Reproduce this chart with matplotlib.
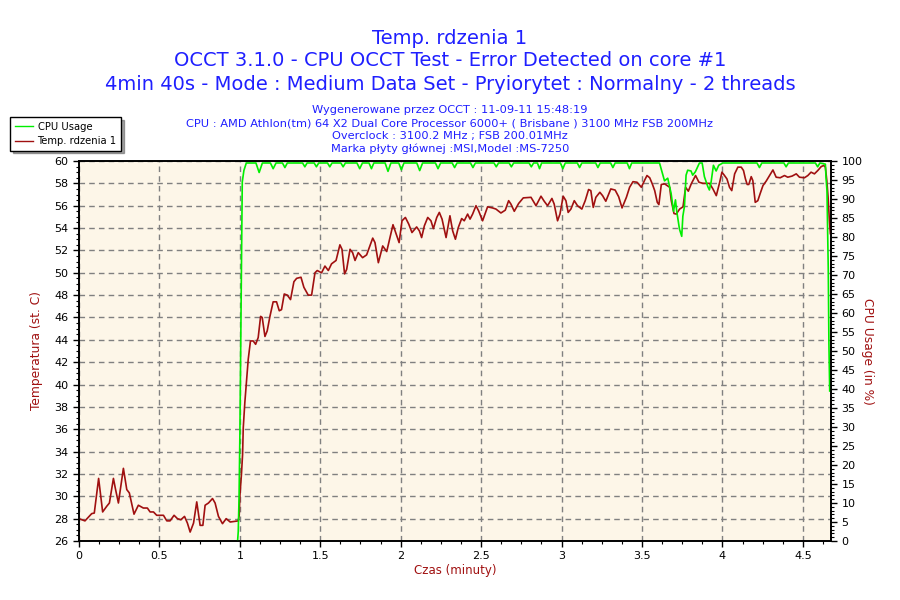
import matplotlib
matplotlib.use('Agg')
import matplotlib.pyplot as plt
from matplotlib.ticker import MultipleLocator
from matplotlib.lines import Line2D
from matplotlib.transforms import offset_copy

# temperature of core 1 (time in minutes, deg C)
tempTime = [0.000, 0.037, 0.079, 0.095, 0.122, 0.147, 0.172, 0.189, 0.214, 0.226, 0.245, 0.276, 0.297, 0.313,
            0.342, 0.369, 0.400, 0.425, 0.442, 0.463, 0.483, 0.525, 0.546, 0.566, 0.591, 0.612, 0.633, 0.656,
            0.674, 0.691, 0.712, 0.732, 0.753, 0.770, 0.784, 0.805, 0.830, 0.846, 0.867, 0.892, 0.915, 0.940,
            0.990, 0.996, 1.000, 1.010, 1.017, 1.021, 1.031, 1.041, 1.052, 1.066, 1.083, 1.098, 1.114, 1.129,
            1.139, 1.156, 1.170, 1.187, 1.207, 1.228, 1.245, 1.259, 1.276, 1.295, 1.315, 1.336, 1.353, 1.380,
            1.398, 1.425, 1.446, 1.467, 1.481, 1.508, 1.529, 1.550, 1.570, 1.598, 1.622, 1.635, 1.651, 1.664,
            1.685, 1.701, 1.716, 1.736, 1.763, 1.788, 1.826, 1.840, 1.861, 1.888, 1.913, 1.952, 1.990, 2.008,
            2.029, 2.050, 2.070, 2.099, 2.116, 2.130, 2.147, 2.168, 2.188, 2.203, 2.224, 2.240, 2.257, 2.282,
            2.306, 2.323, 2.340, 2.358, 2.379, 2.395, 2.416, 2.431, 2.447, 2.468, 2.484, 2.509, 2.540, 2.571,
            2.592, 2.623, 2.650, 2.671, 2.685, 2.706, 2.733, 2.762, 2.810, 2.841, 2.872, 2.892, 2.913, 2.940,
            2.954, 2.975, 2.990, 3.010, 3.027, 3.041, 3.058, 3.079, 3.099, 3.126, 3.147, 3.168, 3.182, 3.197,
            3.213, 3.238, 3.255, 3.275, 3.306, 3.333, 3.355, 3.376, 3.403, 3.423, 3.444, 3.469, 3.496, 3.517,
            3.531, 3.548, 3.564, 3.579, 3.595, 3.605, 3.620, 3.641, 3.657, 3.672, 3.682, 3.699, 3.713, 3.734,
            3.755, 3.771, 3.788, 3.806, 3.833, 3.854, 3.879, 3.920, 3.941, 3.962, 3.983, 3.997, 4.013, 4.028,
            4.044, 4.058, 4.076, 4.096, 4.117, 4.131, 4.143, 4.154, 4.164, 4.179, 4.189, 4.204, 4.220, 4.235,
            4.252, 4.272, 4.293, 4.314, 4.334, 4.359, 4.386, 4.406, 4.433, 4.459, 4.479, 4.510, 4.531, 4.551,
            4.572, 4.593, 4.614, 4.630, 4.640, 4.649, 4.657, 4.665, 4.671]
tempValues = [28.0, 27.8, 28.45, 28.5, 31.6, 28.6, 29.1, 29.4, 31.6, 30.7, 29.4, 32.5, 30.6, 30.3,
              28.4, 29.2, 28.95, 28.95, 28.6, 28.6, 28.3, 28.3, 27.8, 27.8, 28.3, 28.0, 27.9, 28.2,
              27.6, 26.8, 27.6, 29.5, 27.4, 27.4, 29.2, 29.4, 29.8, 29.4, 28.2, 27.55, 28.0, 27.7,
              27.8, 28.3, 30.0, 32.0, 33.75, 36.1, 38.4, 40.2, 42.25, 43.9, 43.9, 43.6, 44.2, 46.1,
              46.0, 44.3, 44.8, 46.1, 47.4, 47.4, 46.6, 46.7, 48.1, 48.0, 47.6, 49.2, 49.5, 49.6,
              48.7, 48.0, 48.0, 50.0, 50.2, 50.0, 50.6, 50.2, 50.8, 51.1, 52.5, 52.1, 49.9, 50.3,
              52.1, 51.8, 51.1, 51.8, 51.35, 51.6, 53.1, 52.7, 50.9, 52.4, 51.9, 54.3, 52.7, 54.65,
              54.95, 54.35, 53.6, 54.1, 53.75, 53.15, 54.2, 54.95, 54.65, 53.95, 54.95, 55.4, 54.8, 53.15,
              55.1, 53.75, 53.0, 54.05, 54.85, 54.65, 55.25, 54.8, 55.25, 56.0, 55.55, 54.65, 55.9, 55.8,
              55.7, 55.35, 55.6, 56.45, 56.15, 55.5, 56.2, 56.7, 56.75, 56.0, 56.85, 56.4, 56.0, 56.65,
              56.15, 54.65, 55.25, 56.85, 56.45, 55.4, 55.7, 56.45, 56.0, 55.7, 56.45, 57.45, 57.35, 55.85,
              56.75, 57.2, 56.9, 56.4, 57.5, 57.4, 56.8, 55.8, 56.75, 57.65, 58.15, 58.1, 57.65, 58.3,
              58.7, 58.5, 57.95, 57.35, 56.3, 56.1, 57.9, 57.95, 57.8, 57.65, 56.45, 55.3, 55.25, 55.7,
              55.9, 57.65, 57.3, 57.95, 58.7, 58.1, 58.0, 58.0, 57.5, 56.9, 58.1, 59.0, 58.7, 58.4,
              57.65, 57.35, 58.85, 59.45, 59.45, 59.15, 58.4, 57.9, 57.9, 58.6, 58.25, 56.3, 56.45, 57.1,
              57.8, 58.2, 58.7, 59.2, 58.55, 58.5, 58.7, 58.55, 58.65, 58.85, 58.55, 58.5, 58.7, 59.0,
              58.85, 59.15, 59.5, 59.6, 59.45, 58.25, 56.75, 54.65, 53.5]

# cpu usage (time in minutes, %)
cpuTime = [0.000, 0.985, 0.990, 0.995, 1.000, 1.005, 1.010, 1.015, 1.025, 1.040,
           1.100, 1.120, 1.140, 1.190, 1.207, 1.225, 1.265, 1.280, 1.295, 1.390, 1.404, 1.418,
           1.462, 1.476, 1.490, 1.545, 1.559, 1.573, 1.628, 1.642, 1.656, 1.728, 1.745, 1.762,
           1.803, 1.818, 1.833, 1.903, 1.921, 1.939, 1.988, 2.004, 2.020, 2.100, 2.118, 2.136,
           2.216, 2.232, 2.248, 2.320, 2.335, 2.350, 2.434, 2.449, 2.464, 2.580, 2.594, 2.608,
           2.674, 2.688, 2.702, 2.798, 2.812, 2.826, 2.850, 2.863, 2.876, 2.993, 3.008, 3.023,
           3.098, 3.112, 3.126, 3.212, 3.226, 3.240, 3.305, 3.319, 3.333, 3.408, 3.422, 3.436,
           3.609, 3.640, 3.660, 3.681, 3.696, 3.708, 3.716, 3.733, 3.747, 3.754, 3.764, 3.774,
           3.784, 3.805, 3.815, 3.832, 3.857, 3.874, 3.888, 3.909, 3.919, 3.930, 3.944, 3.961,
           3.977, 4.002, 4.215, 4.230, 4.245, 4.382, 4.396, 4.410, 4.578, 4.592, 4.606, 4.640,
           4.644, 4.650, 4.654, 4.658, 4.662, 4.667]
cpuValues = [0, 0, 3, 12, 28, 50, 73, 95, 98, 100,
             100, 97.5, 100, 100, 98.5, 100, 100, 98.8, 100, 100, 99, 100,
             100, 99, 100, 100, 99, 100, 100, 99, 100, 100, 98.5, 100,
             100, 98.5, 100, 100, 97.8, 100, 100, 98.2, 100, 100, 98, 100,
             100, 98.5, 100, 100, 98.8, 100, 100, 98.8, 100, 100, 99, 100,
             100, 99, 100, 100, 99, 100, 100, 98.5, 100, 100, 98.5, 100,
             100, 98.8, 100, 100, 98.8, 100, 100, 98.8, 100, 100, 98.5, 100,
             100, 95.3, 96, 92, 87.3, 90.3, 87.3, 82.6, 80.7, 86, 88.6, 96.8,
             98.1, 97.9, 96.8, 97.7, 100, 100, 96.4, 93.8, 92.9, 95.1, 99.4, 97.9,
             99.4, 100, 100, 98.8, 100, 100, 99, 100, 100, 99, 100, 99.7,
             96.2, 92.7, 82.1, 72, 52.6, 40]

titleLines = ['Temp. rdzenia 1',
              'OCCT 3.1.0 - CPU OCCT Test - Error Detected on core #1',
              '4min 40s - Mode : Medium Data Set - Pryiorytet : Normalny - 2 threads']
infoLines = ['Wygenerowane przez OCCT : 11-09-11 15:48:19',
             'CPU : AMD Athlon(tm) 64 X2 Dual Core Processor 6000+ ( Brisbane ) 3100 MHz FSB 200MHz',
             'Overclock : 3100.2 MHz ; FSB 200.01MHz',
             'Marka płyty głównej :MSI,Model :MS-7250']

tempColor = '#a01010'
cpuColor = '#00ee00'
blue = '#1f1fff'

fig = plt.figure(figsize=(9, 6), dpi=100)
ax = fig.add_axes([79/900, 1-541/600, 752/900, 380/600])
ax.set_facecolor('#fdf6e8')
ax2 = ax.twinx()

ax.plot(tempTime, tempValues, color=tempColor, lw=1.2, zorder=3)
# shift the cpu line a couple of pixels down so the 100% level shows under the frame
cpuTrans = offset_copy(ax2.transData, fig=fig, y=-2, units='dots')
ax2.plot(cpuTime, cpuValues, color=cpuColor, lw=1.2, transform=cpuTrans)

ax.set_xlim(0, 4.675)
ax.set_ylim(26, 60)
ax2.set_ylim(0, 100)
ax.xaxis.set_minor_locator(MultipleLocator(0.125))
ax.yaxis.set_major_locator(MultipleLocator(2))
ax.yaxis.set_minor_locator(MultipleLocator(0.5))
ax2.yaxis.set_major_locator(MultipleLocator(5))
ax2.yaxis.set_minor_locator(MultipleLocator(1))
ax.set_xticks([0, 0.5, 1, 1.5, 2, 2.5, 3, 3.5, 4, 4.5])
ax.set_xticklabels(['0', '0.5', '1', '1.5', '2', '2.5', '3', '3.5', '4', '4.5'])

ax.grid(True, which='major', color='#808080', linestyle=(0, (4, 3)), lw=1)
for a in (ax, ax2):
    a.tick_params(which='major', labelsize=8, length=4, width=1, colors='black')
    a.tick_params(which='minor', length=2, width=0.8)
    for s in a.spines.values():
        s.set_color('black')
        s.set_linewidth(1.2)

ax.set_xlabel('Czas (minuty)', color=tempColor, fontsize=8.5, labelpad=2)
ax.set_ylabel('Temperatura (st. C)', color=tempColor, fontsize=8.8, labelpad=8)
ax2.set_ylabel('CPU Usage (in %)', color=tempColor, fontsize=8.8, rotation=-90, labelpad=8)

titleY = [38, 61, 84]
for y, t in zip(titleY, titleLines):
    fig.text(0.5, 1 - y/600, t, ha='center', va='center', color=blue, fontsize=14)
for i, t in enumerate(infoLines):
    fig.text(0.5, 1 - (110 + 13*i)/600, t, ha='center', va='center', color=blue, fontsize=8.2)

handles = [Line2D([], [], color=cpuColor, lw=1), Line2D([], [], color=tempColor, lw=1)]
leg = fig.legend(handles, ['CPU Usage', 'Temp. rdzenia 1'], loc='upper left',
                 bbox_to_anchor=(10/900, 1 - 117/600), fontsize=7.2, frameon=True, fancybox=False,
                 shadow=True, edgecolor='black', borderpad=0.45, handlelength=1.8,
                 labelspacing=0.45, handletextpad=0.5, borderaxespad=0)
leg.get_frame().set_linewidth(1)

fig.savefig('out.png', dpi=100, facecolor='white')
